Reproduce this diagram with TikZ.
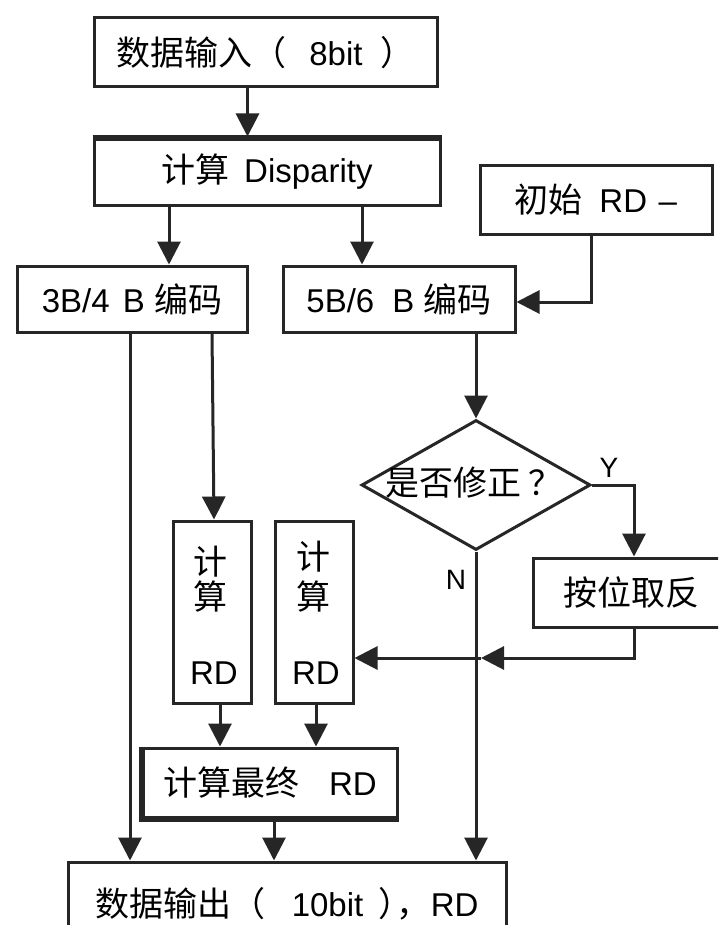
\documentclass[tikz,border=0pt]{standalone}
\usepackage{fontspec}
\setmainfont{Liberation Sans}
\newfontfamily\cjk{Noto Sans CJK SC}[Scale=1.03]
\usetikzlibrary{arrows.meta,shapes.geometric,calc}
\definecolor{ln}{gray}{0.15}
\tikzset{
  box/.style={draw=ln, line width=3pt, rectangle, inner sep=0pt, text=black,
    font=\fontsize{33}{38}\selectfont},
  dia/.style={draw=ln, line width=3pt, diamond, inner sep=0pt},
  txt/.style={inner sep=0pt, text=black, font=\fontsize{33}{38}\selectfont},
  lbl/.style={inner sep=0pt, text=black, font=\fontsize{28}{32}\selectfont},
  arr/.style={draw=ln, line width=3pt, -{Triangle[length=23pt,width=23pt]}},
  thk/.style={draw=ln, line width=6pt}
}
\begin{document}
\begin{tikzpicture}[x=1pt,y=-1pt]
\useasboundingbox (0,0) rectangle (718,925);
\clip (0,0) rectangle (718,925);
\fill[white] (0,0) rectangle (718,925);

% boxes
\node[box, minimum width=343pt, minimum height=69pt] (in) at (265.5,52.5)
  {{\cjk 数据输入（}\hspace{0.7em}8bit\hspace{0.55em}{\cjk ）}};
\node[box, minimum width=346pt, minimum height=68pt] (disp) at (267,172)
  {{\cjk 计算}\hspace{0.45em}Disparity};
\node[box, minimum width=232pt, minimum height=68pt] (init) at (596,200)
  {{\cjk 初始}\hspace{0.5em}RD\hspace{0.35em}–};
\node[box, minimum width=230pt, minimum height=66pt] (b34) at (132,299)
  {3B/4\hspace{0.4em}B {\cjk 编码}};
\node[box, minimum width=232pt, minimum height=66pt] (b56) at (399,299)
  {5B/6\hspace{0.55em}B {\cjk 编码}};
\node[dia, minimum width=229pt, minimum height=130pt] (dq) at (476,485) {};
\node[txt] (dqt) at (474,483) {{\cjk 是否修正}\hspace{0.2em}{\cjk ？}};
\node[box, minimum width=197pt, minimum height=69pt] (inv) at (631.5,592.5)
  {\cjk 按位取反};
\node[box, minimum width=78pt, minimum height=182pt] (rd1) at (212,612) {};
\node[box, minimum width=78pt, minimum height=182pt] (rd2) at (314,612) {};
\node[txt] (rd1a) at (210,562) {\cjk 计};
\node[txt] (rd1b) at (210,597) {\cjk 算};
\node[txt] (rd1c) at (214,673) {RD};
\node[txt] (rd2a) at (313,557) {\cjk 计};
\node[txt] (rd2b) at (313,597) {\cjk 算};
\node[txt] (rd2c) at (316,673) {RD};
\node[box, minimum width=254pt, minimum height=69pt] (fin) at (270,782.5)
  {{\cjk 计算最终}\hspace{0.9em}RD};
\node[box, minimum width=438pt, minimum height=83pt] (out) at (287,903.5)
  {{\cjk 数据输出（}\hspace{0.8em}10bit\hspace{0.45em}{\cjk ）\hspace{-0.45em}，}RD};

% thicker edges
\draw[thk] ([yshift=-1.5pt]disp.north west) -- ([yshift=-1.5pt]disp.north east);
\draw[thk] (fin.north west) -- (fin.south west) -- (fin.south east);

% labels
\node[lbl] (ylab) at (609,468) {Y};
\node[lbl] (nlab) at (456,580) {N};

% connectors
\draw[arr] ([xshift=-18pt]in.south) -- ([xshift=-18pt]in.south |- disp.north);
\draw[arr] ([xshift=37pt]b34.north |- disp.south) -- ([xshift=37pt]b34.north);
\draw[arr] ([xshift=-37pt]b56.north |- disp.south) -- ([xshift=-37pt]b56.north);
\draw[arr] ([xshift=-5pt]init.south) |- ([yshift=-3pt]b56.east);
\draw[arr] (b56.south -| dq.north) -- (dq.north);
\draw[arr] (dq.east) -| ([xshift=2.5pt]inv.north);
\draw[arr] (dq.south) -- (dq.south |- out.north);
\coordinate (j1) at (481,658);
\draw[arr] ([xshift=2.5pt]inv.south) |- (j1);
\draw[arr] (j1) -- (j1 -| rd2.east);
\draw[arr] ([xshift=-2pt]b34.south) -- ([xshift=-2pt]b34.south |- out.north);
\draw[arr] (rd1.north |- b34.south) -- ([xshift=2pt]rd1.north);
\draw[arr] ([xshift=8pt]rd1.south) -- ([xshift=8pt]rd1.south |- fin.north);
\draw[arr] ([xshift=2pt]rd2.south) -- ([xshift=2pt]rd2.south |- fin.north);
\draw[arr] ([xshift=4pt]fin.south) -- ([xshift=4pt]fin.south |- out.north);
\end{tikzpicture}
\end{document}
